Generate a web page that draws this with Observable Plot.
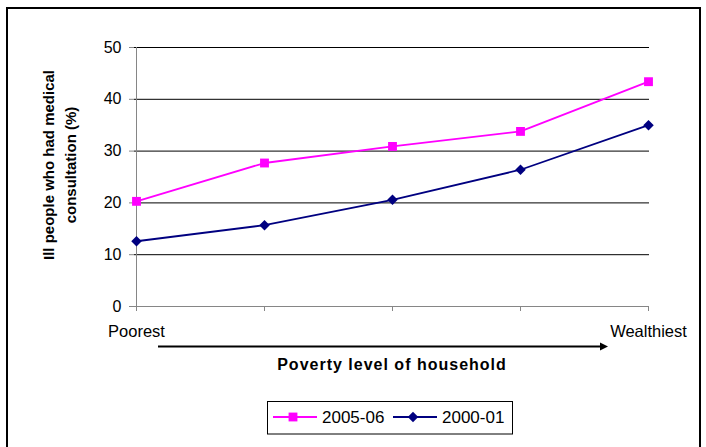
<!DOCTYPE html>
<html>
<head>
<meta charset="utf-8">
<script src="https://cdn.jsdelivr.net/npm/d3@7"></script>
<script src="https://cdn.jsdelivr.net/npm/@observablehq/plot@0.6"></script>
<style>
  body { margin: 0; background: #fff; }
  #chart { position: relative; width: 706px; height: 447px; font-family: "Liberation Sans", Arial, sans-serif; }
  #chart svg { position: absolute; left: 0; top: 0; }
</style>
</head>
<body>
<div id="chart"></div>
<script>
// Household quintiles, poorest to wealthiest
const quintiles = ["Poorest", "Second", "Middle", "Fourth", "Wealthiest"];
const xTickLabels = ["Poorest", "", "", "", "Wealthiest"];
const yTicks = [0, 10, 20, 30, 40, 50];

// Share of ill people who had a medical consultation (%)
const series = ["2005-06", "2000-01"];
const values0506 = [20.3, 27.7, 30.9, 33.8, 43.4];
const values0001 = [12.6, 15.7, 20.6, 26.4, 35.0];
const seriesColors = ["#FF00FF", "#000080"];
const seriesSymbols = ["square", "diamond2"];

const seriesValues = [values0506, values0001];
const rows = series.flatMap((s, i) =>
  quintiles.map((q, j) => ({ series: s, quintile: q, value: seriesValues[i][j] }))
);

const font = '"Liberation Sans", Arial, sans-serif';
const axisGrey = "#868686";

const plot = Plot.plot({
  width: 706,
  height: 447,
  marginLeft: 134,
  marginRight: 57,
  marginTop: 47,
  marginBottom: 141,
  style: { fontFamily: font, fontSize: "16px", color: "#000", background: "transparent", overflow: "visible" },
  x: { type: "point", domain: quintiles, padding: 0 },
  y: { domain: [0, 50] },
  color: { domain: series, range: seriesColors },
  symbol: { domain: series, range: seriesSymbols },
  marks: [
    Plot.ruleY(yTicks.filter(d => d > 0), { stroke: "#000", strokeWidth: 1 }),
    Plot.ruleY([0], { stroke: axisGrey, strokeWidth: 1 }),
    Plot.ruleX([quintiles[0]], { stroke: axisGrey, strokeWidth: 1 }),
    Plot.axisY({
      ticks: yTicks, tickSize: 5, tickPadding: 8, stroke: axisGrey, fill: "#000",
      fontSize: 16, label: null
    }),
    Plot.axisX({
      tickSize: 5, tickPadding: 14, stroke: axisGrey, fill: "#000", fontSize: 16.5, label: null,
      tickFormat: d => xTickLabels[quintiles.indexOf(d)]
    }),
    Plot.line(rows, { x: "quintile", y: "value", z: "series", stroke: "series", strokeWidth: 1.8 }),
    Plot.dot(rows.filter(d => d.series === series[0]), { x: "quintile", y: "value", symbol: "series", fill: "series", r: 5 }),
    Plot.dot(rows.filter(d => d.series === series[1]), { x: "quintile", y: "value", symbol: "series", fill: "series", r: 4.75 })
  ]
});

const chart = document.getElementById("chart");
chart.appendChild(plot);

// Annotations: frame, axis titles, direction arrow and legend
const svg = d3.select(chart).append("svg")
  .attr("width", 706).attr("height", 447)
  .style("pointer-events", "none")
  .attr("font-family", font);

svg.append("path")
  .attr("d", "M7,447V8H700V447")
  .attr("fill", "none").attr("stroke", "#000").attr("stroke-width", 2);

const yTitle = svg.append("g")
  .attr("transform", "translate(0,165) rotate(-90)")
  .attr("text-anchor", "middle")
  .attr("font-weight", "bold")
  .attr("font-size", 15);
yTitle.append("text").attr("x", 0).attr("y", 54).text("Ill people who had medical");
yTitle.append("text").attr("x", 0).attr("y", 76).text("consultation (%)");

svg.append("line")
  .attr("x1", 158).attr("x2", 601).attr("y1", 346.5).attr("y2", 346.5)
  .attr("stroke", "#000").attr("stroke-width", 2);
svg.append("path")
  .attr("d", "M600,342.5L608,346.5L600,350.5Z")
  .attr("fill", "#000");

svg.append("text")
  .attr("x", 392).attr("y", 370)
  .attr("text-anchor", "middle")
  .attr("font-weight", "bold")
  .attr("font-size", 16)
  .attr("letter-spacing", 1)
  .text("Poverty level of household");

const legend = svg.append("g");
legend.append("rect")
  .attr("x", 267.5).attr("y", 401.5).attr("width", 245).attr("height", 32.5)
  .attr("fill", "#fff").attr("stroke", "#000").attr("stroke-width", 1);

const legendItems = [
  { x: 273, symbol: d3.symbolSquare, size: 78 },
  { x: 393, symbol: d3.symbolDiamond2, size: 70 }
];
series.forEach((s, i) => {
  const item = legendItems[i];
  const g = legend.append("g");
  g.append("line")
    .attr("x1", item.x).attr("x2", item.x + 44)
    .attr("y1", 417).attr("y2", 417)
    .attr("stroke", seriesColors[i]).attr("stroke-width", 1.8);
  g.append("path")
    .attr("transform", `translate(${item.x + 20},417)`)
    .attr("d", d3.symbol(item.symbol, item.size)())
    .attr("fill", seriesColors[i]);
  g.append("text")
    .attr("x", item.x + 49).attr("y", 423)
    .attr("font-size", 17)
    .text(s);
});
</script>
</body>
</html>
